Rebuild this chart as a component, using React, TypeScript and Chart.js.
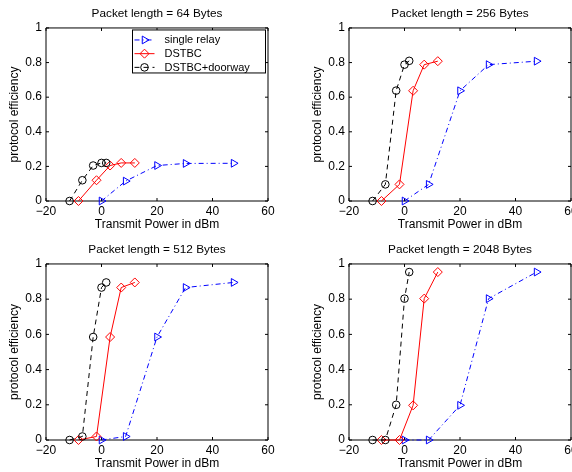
import React, { useEffect, useRef } from "react";
import { Chart, registerables } from "chart.js";

Chart.register(...registerables);

// ---------- data ----------
const packetLengths = [64, 256, 512, 2048];
const seriesNames = ["single relay", "DSTBC", "DSTBC+doorway"];

const singleRelayX = [0, 8.7, 20, 30.3, 47.6];
const dstbcX = [-8.3, -1.8, 3.1, 7.1, 12];
const doorwayX = [-11.5, -6.9, -3, 0, 1.7];

const singleRelay64 = [0, 0.115, 0.205, 0.217, 0.218];
const dstbc64 = [0, 0.12, 0.205, 0.22, 0.22];
const doorway64 = [0, 0.12, 0.205, 0.22, 0.22];

const singleRelay256 = [0, 0.096, 0.637, 0.788, 0.808];
const dstbc256 = [0, 0.096, 0.637, 0.788, 0.808];
const doorway256 = [0, 0.096, 0.638, 0.788, 0.81];

const singleRelay512 = [0, 0.02, 0.585, 0.866, 0.895];
const dstbc512 = [0, 0.02, 0.585, 0.866, 0.895];
const doorway512 = [0, 0.02, 0.585, 0.866, 0.895];

const singleRelay2048 = [0, 0, 0.197, 0.803, 0.954];
const dstbc2048 = [0, 0, 0.197, 0.803, 0.954];
const doorway2048 = [0, 0, 0.2, 0.803, 0.954];

const xTicks = [-20, 0, 20, 40, 60];
const yTicks = [0, 0.2, 0.4, 0.6, 0.8, 1];

const xTitle = "Transmit Power in dBm";
const yTitle = "protocol efficiency";

const panelSeries = [
  [singleRelay64, dstbc64, doorway64],
  [singleRelay256, dstbc256, doorway256],
  [singleRelay512, dstbc512, doorway512],
  [singleRelay2048, dstbc2048, doorway2048],
];
const seriesX = [singleRelayX, dstbcX, doorwayX];

// ---------- styles ----------
const FONT = "'Liberation Sans', Arial, Helvetica, sans-serif";
const seriesColors = ["#0000ff", "#ff0000", "#000000"];
const seriesDash = [[5, 3, 1, 3], [], [5, 4]];
const seriesMarker = ["triangle", "rectRot", "circle"];
const seriesRotation = [90, 0, 0];
const seriesRadius = [4.5, 4.5, 3.8];
const seriesOrder = [2, 1, 0];

const CW = 286;
const CH = 236;

const panels = [
  { left: 0, top: 0, xAxisH: 35, xTitlePad: 3.8, legend: true },
  { left: 303, top: 0, xAxisH: 35, xTitlePad: 3.8, legend: false },
  { left: 0, top: 236, xAxisH: 32, xTitlePad: 0.8, legend: false },
  { left: 303, top: 236, xAxisH: 32, xTitlePad: 0.8, legend: false },
];

function fmtTick(v: number) {
  const r = Math.round(v * 10) / 10;
  const s = String(Math.abs(r));
  return r < 0 ? "\u2212" + s : s;
}

function drawMarker(ctx: CanvasRenderingContext2D, style: string, x: number, y: number, r: number) {
  ctx.beginPath();
  if (style === "circle") {
    ctx.arc(x, y, r, 0, Math.PI * 2);
  } else if (style === "rectRot") {
    ctx.moveTo(x, y - r);
    ctx.lineTo(x + r, y);
    ctx.lineTo(x, y + r);
    ctx.lineTo(x - r, y);
    ctx.closePath();
  } else {
    for (let k = 0; k < 3; k++) {
      const a = (k * 2 * Math.PI) / 3;
      const px = x + Math.cos(a) * r;
      const py = y + Math.sin(a) * r;
      if (k === 0) ctx.moveTo(px, py);
      else ctx.lineTo(px, py);
    }
    ctx.closePath();
  }
  ctx.stroke();
}

const boxPlugin = {
  id: "matlabBox",
  beforeDatasetsDraw(chart: any) {
    const { ctx, chartArea } = chart;
    const { left, right, top, bottom } = chartArea;
    const xs = chart.scales.x;
    const ys = chart.scales.y;
    const T = 3;
    ctx.save();
    ctx.strokeStyle = "#000";
    ctx.lineWidth = 1;
    ctx.beginPath();
    ctx.rect(left, top, right - left, bottom - top);
    for (const v of xTicks) {
      const px = xs.getPixelForValue(v);
      ctx.moveTo(px, bottom);
      ctx.lineTo(px, bottom - T);
      ctx.moveTo(px, top);
      ctx.lineTo(px, top + T);
    }
    for (const v of yTicks) {
      const py = ys.getPixelForValue(v);
      ctx.moveTo(left, py);
      ctx.lineTo(left + T, py);
      ctx.moveTo(right, py);
      ctx.lineTo(right - T, py);
    }
    ctx.stroke();
    ctx.restore();
  },
};

const legendPlugin = {
  id: "matlabLegend",
  afterDatasetsDraw(chart: any, _args: any, opts: any) {
    if (!opts || !opts.show) return;
    const { ctx, chartArea } = chart;
    const bw = 133;
    const bh = 43;
    const bx = chartArea.right - 2.5 - bw;
    const by = chartArea.top + 2;
    ctx.save();
    ctx.fillStyle = "#fff";
    ctx.fillRect(bx, by, bw, bh);
    ctx.strokeStyle = "#000";
    ctx.lineWidth = 1;
    ctx.strokeRect(bx, by, bw, bh);
    ctx.font = `11px ${FONT}`;
    ctx.textBaseline = "middle";
    ctx.textAlign = "left";
    seriesNames.forEach((name, i) => {
      const cy = by + 10 + i * 13.7;
      ctx.strokeStyle = seriesColors[i];
      ctx.setLineDash(seriesDash[i]);
      ctx.beginPath();
      ctx.moveTo(bx + 2, cy);
      ctx.lineTo(bx + 22, cy);
      ctx.stroke();
      ctx.setLineDash([]);
      drawMarker(ctx, seriesMarker[i], bx + 12, cy, seriesRadius[i]);
      ctx.fillStyle = "#000";
      ctx.fillText(name, bx + 32, cy + 0.5);
    });
    ctx.restore();
  },
};

function Panel({ index }: { index: number }) {
  const ref = useRef<HTMLCanvasElement>(null);
  const p = panels[index];
  useEffect(() => {
    const ys = panelSeries[index];
    const datasets = seriesNames.map((name, i) => ({
      label: name,
      data: seriesX[i].map((x, k) => ({ x, y: ys[i][k] })),
      borderColor: seriesColors[i],
      borderWidth: 1,
      borderDash: seriesDash[i],
      pointStyle: seriesMarker[i] as any,
      pointRotation: seriesRotation[i],
      pointRadius: seriesRadius[i],
      pointBorderColor: seriesColors[i],
      pointBorderWidth: 1,
      pointBackgroundColor: "rgba(0,0,0,0)",
      tension: 0,
      fill: false,
      clip: false as any,
      order: seriesOrder[i],
    }));
    const font = { family: FONT, size: 12 };
    const chart = new Chart(ref.current as HTMLCanvasElement, {
      type: "line",
      data: { datasets },
      plugins: [boxPlugin, legendPlugin],
      options: {
        animation: false,
        responsive: false,
        maintainAspectRatio: false,
        layout: { padding: { left: 0, right: 18, top: 0, bottom: 0 } },
        plugins: {
          legend: { display: false },
          tooltip: { enabled: false },
          title: {
            display: true,
            text: `Packet length = ${packetLengths[index]} Bytes`,
            font: { family: FONT, size: 11.8, weight: "normal" },
            color: "#000",
            padding: { top: 7, bottom: 6.8 },
            fullSize: false,
          } as any,
          matlabLegend: { show: p.legend },
        } as any,
        scales: {
          x: {
            type: "linear",
            min: -20,
            max: 60,
            afterBuildTicks: (s: any) => {
              s.ticks = xTicks.map((v) => ({ value: v }));
            },
            afterFit: (s: any) => {
              s.height = p.xAxisH;
            },
            grid: { display: false, drawTicks: false },
            border: { display: false },
            ticks: {
              padding: 3.5,
              font,
              color: "#000",
              maxRotation: 0,
              autoSkip: false,
              callback: (v: any) => fmtTick(Number(v)),
            },
            title: {
              display: true,
              text: xTitle,
              font,
              color: "#000",
              padding: { top: 0, bottom: p.xTitlePad },
            },
          },
          y: {
            type: "linear",
            min: 0,
            max: 1,
            afterBuildTicks: (s: any) => {
              s.ticks = yTicks.map((v) => ({ value: v }));
            },
            afterFit: (s: any) => {
              s.width = 46;
            },
            grid: { display: false, drawTicks: false },
            border: { display: false },
            ticks: {
              padding: 4,
              font,
              color: "#000",
              autoSkip: false,
              callback: (v: any) => fmtTick(Number(v)),
            },
            title: {
              display: true,
              text: yTitle,
              font,
              color: "#000",
              padding: { top: 7.8, bottom: 0 },
            },
          },
        },
      } as any,
    });
    return () => chart.destroy();
  }, [index]);
  return (
    <canvas
      ref={ref}
      width={CW}
      height={CH}
      style={{ position: "absolute", left: p.left, top: p.top, width: CW, height: CH }}
    />
  );
}

export default function App() {
  return (
    <div
      style={{
        position: "absolute",
        left: 0,
        top: 0,
        width: 572,
        height: 472,
        overflow: "hidden",
        background: "#fff",
      }}
    >
      {panels.map((_, i) => (
        <Panel key={i} index={i} />
      ))}
    </div>
  );
}
